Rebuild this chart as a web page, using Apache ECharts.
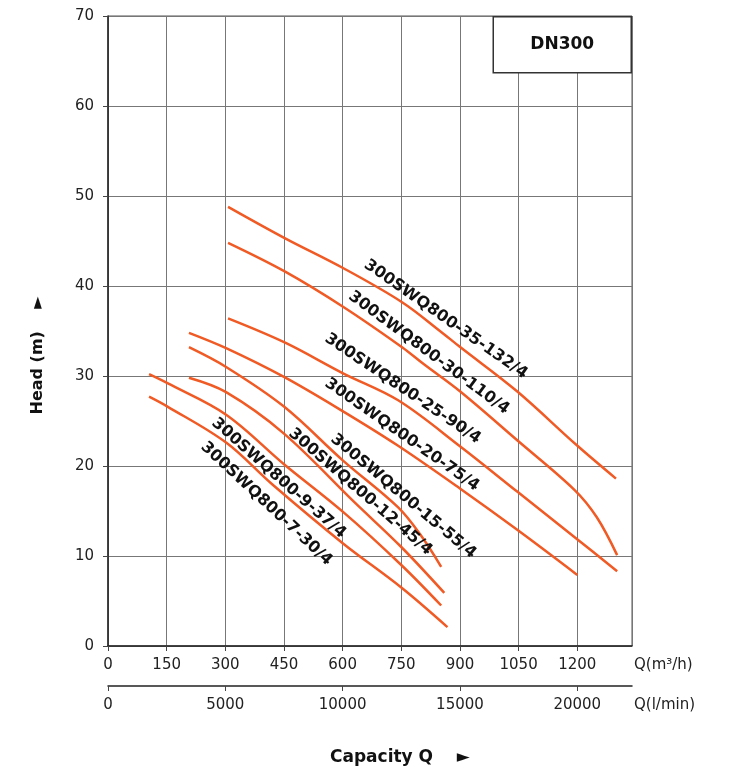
<!DOCTYPE html>
<html>
<head>
<meta charset="utf-8">
<script src="https://cdn.jsdelivr.net/npm/echarts@6/dist/echarts.min.js"></script>
<style>
html,body{margin:0;padding:0;background:#fff;}
#chart{width:732px;height:769px;}
</style>
</head>
<body>
<div id="chart"></div>
<script>
// ---- data (Q in m3/h, H in m) ----
const names = [
  '300SWQ800-35-132/4','300SWQ800-30-110/4','300SWQ800-25-90/4','300SWQ800-20-75/4',
  '300SWQ800-15-55/4','300SWQ800-12-45/4','300SWQ800-9-37/4','300SWQ800-7-30/4'
];
const q35 = [307,453,601,752,852,898,1046,1199,1299];
const h35 = [48.8,45.3,42.0,38.2,34.9,33.3,28.3,22.3,18.6];
const q30 = [307,453,601,752,808,900,1048,1194,1250,1302];
const h30 = [44.8,41.6,37.7,33.2,31.3,28.3,22.8,17.3,14.3,10.1];
const q25 = [307,453,601,742,900,1048,1199,1302];
const h25 = [36.4,33.7,30.3,27.3,22.2,17.1,11.9,8.3];
const q20 = [207,302,450,600,740,900,1050,1200];
const h20 = [34.8,33.1,29.9,26.1,22.3,17.5,12.8,7.9];
const q15 = [207,302,450,601,742,800,852];
const h15 = [33.2,31.0,26.6,20.6,15.4,12.3,8.8];
const q12 = [207,302,450,632,750,860];
const h12 = [29.8,28.2,23.6,15.9,11.0,5.9];
const q9 = [105,152,302,450,601,750,852];
const h9 = [30.2,29.2,25.7,20.2,14.9,9.0,4.5];
const q7 = [105,152,302,419,601,750,868];
const h7 = [27.7,26.6,22.6,18.0,11.4,6.5,2.1];
const labelQ = [852,808,742,740,742,632,450,419];   // curve point carrying the model label

const xTicksM3h = [0,150,300,450,600,750,900,1050,1200];
const yTicks = [0,10,20,30,40,50,60,70];
const xTicksLmin = [0,5000,10000,15000,20000];

const curvesQ = [q35,q30,q25,q20,q15,q12,q9,q7];
const curvesH = [h35,h30,h25,h20,h15,h12,h9,h7];

// ---- styling ----
const ORANGE = '#f05a24';
const FONT = 'DejaVu Sans';
const labelStyle = [
  {pos:'top', rot:-35, d:6},
  {pos:'top', rot:-36.5, d:5},
  {pos:'top', rot:-34, d:5},
  {pos:'top', rot:-35, d:4},
  {pos:'top', rot:-40, d:5},
  {pos:'top', rot:-41, d:5},
  {pos:'bottom', rot:-41.5, d:8},
  {pos:'bottom', rot:-43, d:14}
];

const series = curvesQ.map((qs, k) => ({
  type: 'line',
  name: names[k],
  xAxisIndex: 0,
  yAxisIndex: 0,
  smooth: 0.35,
  symbol: 'none',
  showSymbol: true,
  silent: true,
  lineStyle: {color: ORANGE, width: 2.5},
  itemStyle: {color: ORANGE},
  z: 5,
  data: qs.map((q, i) => {
    if (q === labelQ[k]) {
      return {
        value: [q, curvesH[k][i]],
        symbol: 'circle',
        symbolSize: 0.01,
        label: {
          show: true,
          formatter: names[k],
          position: labelStyle[k].pos,
          distance: labelStyle[k].d,
          rotate: labelStyle[k].rot,
          fontFamily: FONT,
          fontWeight: 'bold',
          fontSize: 16,
          color: '#111'
        }
      };
    }
    return [q, curvesH[k][i]];
  })
}));

const chart = echarts.init(document.getElementById('chart'), null, {renderer: 'canvas'});
chart.setOption({
  animation: false,
  backgroundColor: '#fff',
  grid: {left: 108, right: 100, top: 16, bottom: 123, show: true, borderColor: '#555', borderWidth: 1},
  title: {
    text: 'Capacity Q    \u25BA',
    left: 325, top: 744,
    textStyle: {fontFamily: FONT, fontWeight: 'bold', fontSize: 17, color: '#111'}
  },
  xAxis: [
    {
      type: 'value', min: 0, max: 1340, interval: 150, position: 'bottom',
      name: 'Q(m\u00B3/h)', nameLocation: 'end', nameGap: 2,
      nameTextStyle: {fontFamily: FONT, fontSize: 15, color: '#222', verticalAlign: 'top', padding: [12, 0, 0, 0]},
      axisLine: {show: true, onZero: false, lineStyle: {color: '#222', width: 1.5}},
      axisTick: {show: true, length: 5, lineStyle: {color: '#444'}},
      axisLabel: {fontFamily: FONT, fontSize: 15, color: '#222', margin: 12, showMaxLabel: false,
        formatter: v => (xTicksM3h.indexOf(v) >= 0 ? String(v) : '')},
      splitLine: {show: true, lineStyle: {color: '#777', width: 1}}
    },
    {
      type: 'value', min: 0, max: 1340 * 1000 / 60, interval: 5000, position: 'bottom', offset: 40,
      name: 'Q(l/min)', nameLocation: 'end', nameGap: 2,
      nameTextStyle: {fontFamily: FONT, fontSize: 15, color: '#222', verticalAlign: 'top', padding: [12, 0, 0, 0]},
      axisLine: {show: true, onZero: false, lineStyle: {color: '#222', width: 1.5}},
      axisTick: {show: true, length: 5, lineStyle: {color: '#444'}},
      axisLabel: {fontFamily: FONT, fontSize: 15, color: '#222', margin: 12, showMaxLabel: false,
        formatter: v => (xTicksLmin.indexOf(v) >= 0 ? String(v) : '')},
      splitLine: {show: false}
    }
  ],
  yAxis: {
    type: 'value', min: 0, max: 70, interval: 10,
    name: 'Head (m)    \u25BA', nameLocation: 'middle', nameRotate: 90, nameGap: 62,
    nameTextStyle: {fontFamily: FONT, fontWeight: 'bold', fontSize: 16, color: '#111', padding: [0, 49, 0, 0]},
    axisLine: {show: true, lineStyle: {color: '#222', width: 1.5}},
    axisTick: {show: true, length: 5, lineStyle: {color: '#444'}},
    axisLabel: {fontFamily: FONT, fontSize: 15, color: '#222', margin: 14,
      formatter: v => (yTicks.indexOf(v) >= 0 ? String(v) : '')},
    splitLine: {show: true, lineStyle: {color: '#777', width: 1}}
  },
  graphic: [{
    type: 'group', right: 100, top: 16, z: 100,
    children: [
      {type: 'rect', z: 100, shape: {x: 0, y: 0, width: 138, height: 56},
        style: {fill: '#fff', stroke: '#333', lineWidth: 1.5}},
      {type: 'text', z: 101, x: 69, y: 28,
        style: {text: 'DN300', font: 'bold 17px "DejaVu Sans"', fill: '#111', align: 'center', verticalAlign: 'middle'}}
    ]
  }],
  series: series
});
</script>
</body>
</html>
